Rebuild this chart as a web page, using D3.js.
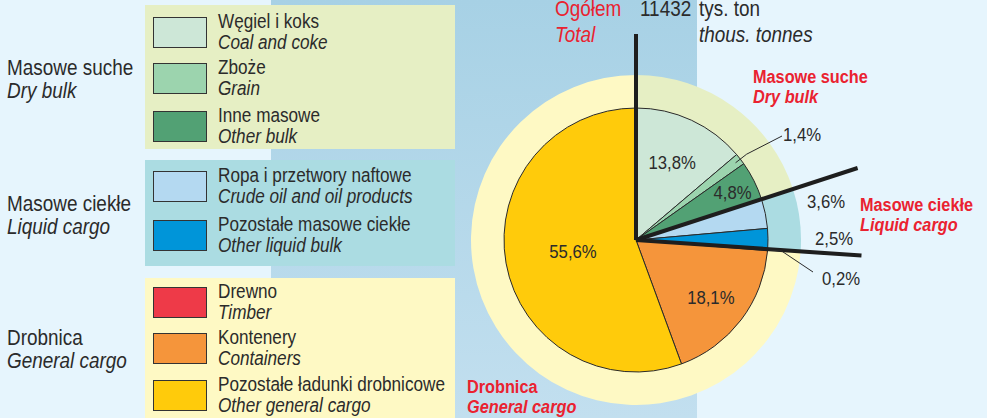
<!DOCTYPE html>
<html>
<head>
<meta charset="utf-8">
<script src="https://cdn.jsdelivr.net/npm/d3@7"></script>
<style>
  html, body { margin: 0; padding: 0; background: #e6f5fd; }
  svg { display: block; }
  text { font-family: "Liberation Sans", Arial, Helvetica, sans-serif; fill: #2b2b2b; }
</style>
</head>
<body>
<svg id="chart" width="987" height="418"></svg>
<script>
// ---- data ----
const categories   = ["Węgiel i koks", "Zboże", "Inne masowe", "Ropa i przetwory naftowe", "Pozostałe masowe ciekłe", "Drewno", "Kontenery", "Pozostałe ładunki drobnicowe"];
const categoriesEn = ["Coal and coke", "Grain", "Other bulk", "Crude oil and oil products", "Other liquid bulk", "Timber", "Containers", "Other general cargo"];
const values       = [13.8, 1.4, 4.8, 3.6, 2.5, 0.2, 18.1, 55.6];
const groupOf      = [0, 0, 0, 1, 1, 2, 2, 2];
const groups       = ["Masowe suche", "Masowe ciekłe", "Drobnica"];
const groupsEn     = ["Dry bulk", "Liquid cargo", "General cargo"];
const totalValue   = 11432;
const totalLabel   = ["Ogółem", "Total"];
const unitLabel    = ["tys. ton", "thous. tonnes"];

// ---- styles ----
const sliceColors = ["#cde7d7", "#9cd4ae", "#52a174", "#b4d9f1", "#0095d9", "#ee3a48", "#f5953b", "#ffcb0b"];
const groupColors = ["#e6efc4", "#abdce2", "#fef9c4"];
const red = "#ea2230";
const SX = 0.88; // condensed look

const svg = d3.select("#chart");
const W = 987, H = 418;

// condensed text helper
function txt(parent, x, y, s, o = {}) {
  const t = parent.append("text")
    .attr("transform", `translate(${x},${y}) scale(${SX},1)`)
    .attr("font-size", o.size || 19.5)
    .attr("text-anchor", o.anchor || "start")
    .text(s);
  if (o.italic) t.attr("font-style", "italic");
  if (o.bold) t.attr("font-weight", "bold");
  if (o.color) t.style("fill", o.color);
  return t;
}

// background
const defs = svg.append("defs");
const grad = defs.append("linearGradient").attr("id", "bg").attr("x1", 0).attr("y1", 0).attr("x2", 0).attr("y2", 1);
grad.append("stop").attr("offset", 0).attr("stop-color", "#a7d1e5");
grad.append("stop").attr("offset", 1).attr("stop-color", "#c2dfef");
svg.append("rect").attr("width", W).attr("height", H).attr("fill", "#e6f5fd");
svg.append("rect").attr("x", 271).attr("y", 0).attr("width", 426).attr("height", H).attr("fill", "url(#bg)");

// ---- legend ----
const panels = [{y: 5, h: 144}, {y: 160, h: 106}, {y: 278, h: 150}];
const rowTops = [17, 63, 111, 171, 220, 287, 333, 380];
const groupLabelY = [75, 211, 345];

groups.forEach((gname, i) => {
  svg.append("rect").attr("x", 145).attr("y", panels[i].y).attr("width", 310).attr("height", panels[i].h).attr("fill", groupColors[i]);
  txt(svg, 7, groupLabelY[i], gname, {size: 21.5});
  txt(svg, 7, groupLabelY[i] + 23, groupsEn[i], {size: 21.5, italic: true});
});

categories.forEach((c, i) => {
  const t = rowTops[i];
  svg.append("rect").attr("x", 153.5).attr("y", t + 0.5).attr("width", 53).attr("height", 30)
    .attr("fill", sliceColors[i]).attr("stroke", "#333").attr("stroke-width", 1);
  txt(svg, 218, t + 11, c);
  txt(svg, 218, t + 32, categoriesEn[i], {italic: true});
});

// ---- pie ----
const cx = 636, cy = 240, r = 132, R = 165;
const g = svg.append("g").attr("transform", `translate(${cx},${cy})`);

const groupSums = groups.map((_, gi) => d3.sum(values.filter((v, i) => groupOf[i] === gi)));
const pie = d3.pie().sort(null).value(d => d);
const groupArcs = pie(groupSums);
const sliceArcs = pie(values);

g.selectAll("path.ring").data(groupArcs).join("path")
  .attr("fill", (d, i) => groupColors[i])
  .attr("d", d3.arc().innerRadius(0).outerRadius(R));

const arc = d3.arc().innerRadius(0).outerRadius(r);
g.selectAll("path.slice").data(sliceArcs).join("path")
  .attr("fill", (d, i) => sliceColors[i])
  .attr("stroke", "#2a2a2a").attr("stroke-width", 1)
  .attr("stroke-linejoin", "round")
  .attr("d", arc);

// group separator lines
const sepLen = [206, 233, 226];
groupArcs.forEach((d, i) => {
  const a = d.startAngle;
  g.append("line").attr("x1", 0).attr("y1", 0)
    .attr("x2", sepLen[i] * Math.sin(a)).attr("y2", -sepLen[i] * Math.cos(a))
    .attr("stroke", "#1e1e1e").attr("stroke-width", 4).attr("stroke-linecap", "butt");
});

const fmt = v => d3.format(".1f")(v).replace(".", ",") + "%";
const polar = (rad, a) => [rad * Math.sin(a), -rad * Math.cos(a)];
const mid = d => (d.startAngle + d.endAngle) / 2;

// inside labels
const inside = {0: 86, 2: 108, 6: 94, 7: 64};
Object.entries(inside).forEach(([k, rad]) => {
  const d = sliceArcs[+k];
  const [x, y] = polar(rad, mid(d));
  txt(g, x, y + 7, fmt(values[+k]), {size: 19, anchor: "middle"});
});

// outside labels (no leader)
const outside = {3: 194, 4: 198};
Object.entries(outside).forEach(([k, rad]) => {
  const d = sliceArcs[+k];
  const [x, y] = polar(rad, mid(d));
  txt(g, x, y + 7, fmt(values[+k]), {size: 19, anchor: "middle"});
});

// leader labels
const leaders = {
  1: {r0: 126, r1: 140, end: [146, -104], txt: [147, -99]},
  5: {r0: 134, r1: 146, end: [177, 32], txt: [186, 45]}
};
Object.entries(leaders).forEach(([k, L]) => {
  const d = sliceArcs[+k];
  const a = mid(d);
  const p0 = polar(L.r0, a), p1 = polar(L.r1, a);
  g.append("path").attr("d", d3.line()([p0, p1, L.end])).attr("fill", "none").attr("stroke", "#2a2a2a").attr("stroke-width", 1);
  txt(g, L.txt[0], L.txt[1], fmt(values[+k]), {size: 19});
});

// red group labels
const groupLabelPos = [[753, 83], [860, 211], [467, 393]];
groups.forEach((gname, i) => {
  txt(svg, groupLabelPos[i][0], groupLabelPos[i][1], gname, {size: 18.5, bold: true, color: red});
  txt(svg, groupLabelPos[i][0], groupLabelPos[i][1] + 20, groupsEn[i], {size: 18.5, bold: true, italic: true, color: red});
});

// title
txt(svg, 555, 16, totalLabel[0], {size: 21.5, color: red});
txt(svg, 555, 42, totalLabel[1], {size: 21.5, italic: true, color: red});
txt(svg, 640, 16, totalValue, {size: 21.5});
txt(svg, 699, 16, unitLabel[0], {size: 21.5});
txt(svg, 699, 42, unitLabel[1], {size: 21.5, italic: true});
</script>
</body>
</html>
